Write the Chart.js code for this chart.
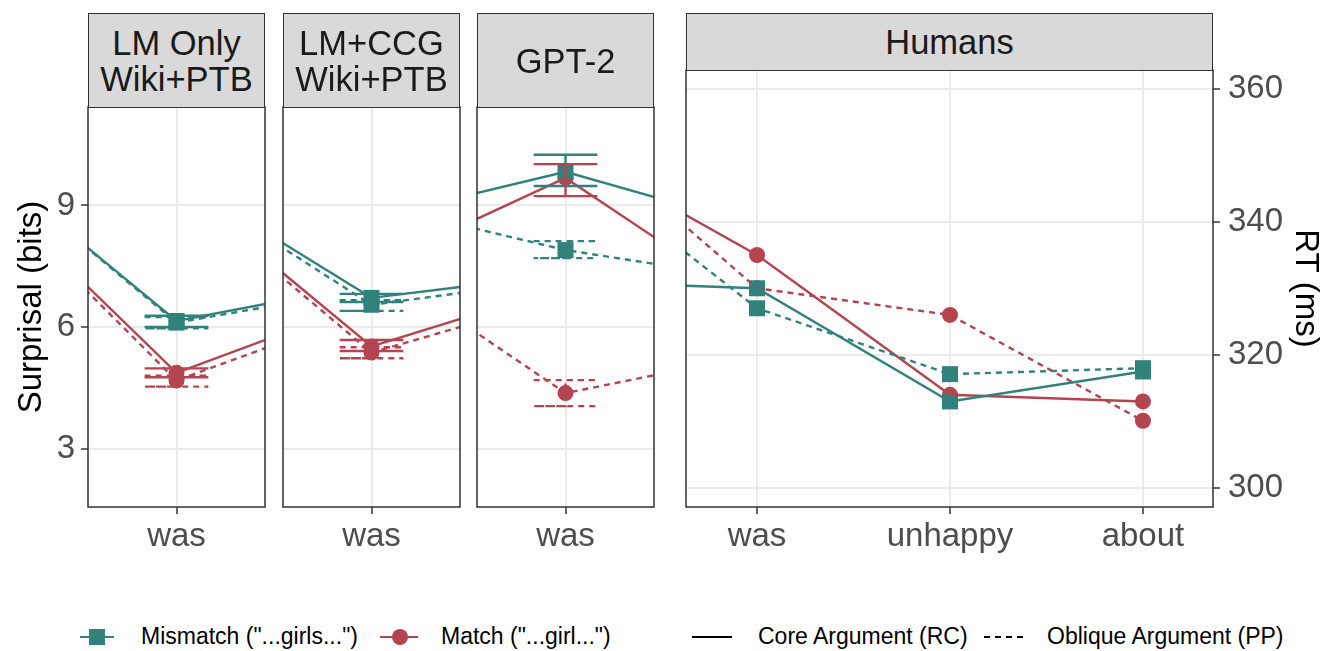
<!DOCTYPE html>
<html><head><meta charset="utf-8">
<script src="https://cdn.jsdelivr.net/npm/chart.js@4"></script>
<style>
body{margin:0;width:1325px;height:651px;background:#fff;position:relative;overflow:hidden;font-family:"Liberation Sans",Arial,sans-serif;}
canvas{position:absolute;}
.strip{position:absolute;background:#D9D9D9;border:1.5px solid #333;box-sizing:border-box;color:#1A1A1A;font-size:34.5px;line-height:36px;display:flex;align-items:center;justify-content:center;text-align:center;white-space:pre;}
.lg{position:absolute;font-size:23px;color:#000;line-height:26px;white-space:pre;}
.lgline{position:absolute;height:2.5px;}
.lgmark{position:absolute;}
</style></head>
<body>
<canvas id="c1" width="267" height="462" style="left:0px;top:105px"></canvas>
<canvas id="c2" width="181" height="462" style="left:281px;top:105px"></canvas>
<canvas id="c3" width="181" height="462" style="left:475px;top:105px"></canvas>
<canvas id="c4" width="641" height="499" style="left:684px;top:68px"></canvas>
<script>
// ---------- DATA ----------
const panelNames = ['LM Only\nWiki+PTB', 'LM+CCG\nWiki+PTB', 'GPT-2', 'Humans'];
const colorLegend = ['Mismatch ("...girls...")', 'Match ("...girl...")'];
const typeLegend = ['Core Argument (RC)', 'Oblique Argument (PP)'];

// model panels: previous word, "was", next word
const lmWordPos = [-1, 0, 1];
const lmCategories = ['was'];
const surprisalTicks = [3, 6, 9];

// LM Only Wiki+PTB
const lmOnlyMismatchCore = [9.75, 6.15, 6.99];
const lmOnlyMismatchObl  = [9.75, 6.11, 6.87];
const lmOnlyMatchCore    = [9.11, 4.87, 6.49];
const lmOnlyMatchObl     = [9.04, 4.68, 6.28];
const lmOnlyMismatchCoreCI = [6.00, 6.28];
const lmOnlyMismatchOblCI  = [5.97, 6.25];
const lmOnlyMatchCoreCI    = [4.76, 4.98];
const lmOnlyMatchOblCI     = [4.53, 4.80];

// LM+CCG Wiki+PTB
const ccgMismatchCore = [9.42, 6.72, 7.26];
const ccgMismatchObl  = [9.35, 6.55, 7.13];
const ccgMatchCore    = [9.14, 5.52, 6.88];
const ccgMatchObl     = [9.05, 5.37, 6.63];
const ccgMismatchCoreCI = [6.62, 6.82];
const ccgMismatchOblCI  = [6.40, 6.66];
const ccgMatchCoreCI    = [5.41, 5.68];
const ccgMatchOblCI     = [5.23, 5.50];

// GPT-2
const gptMismatchCore = [8.79, 9.83, 8.59];
const gptMismatchObl  = [8.94, 7.90, 7.22];
const gptMatchCore    = [7.66, 9.68, 6.76];
const gptMatchObl     = [7.33, 4.37, 5.25];
const gptMismatchCoreCI = [9.48, 10.25];
const gptMismatchOblCI  = [7.70, 8.12];
const gptMatchCoreCI    = [9.23, 10.02];
const gptMatchOblCI     = [4.05, 4.69];

// Humans (RT, ms): previous word, was, unhappy, about
const humanWordPos = [0, 1, 2, 3];
const humanCategories = ['was', 'unhappy', 'about'];
const rtTicks = [300, 320, 340, 360];
const humMismatchCore = [331.0, 330.0, 313.0, 317.5];
const humMismatchObl  = [349.7, 327.0, 317.1, 318.0];
const humMatchCore    = [351.3, 335.0, 314.0, 313.0];
const humMatchObl     = [355.1, 330.0, 326.0, 310.1];

// ---------- STYLE ----------
const TEAL = '#31827C', RED = '#B44550';
const DASH = [6, 5];
const LW = 2.4;
const FONT = '"Liberation Sans", Arial, sans-serif';

function pts(xs, ys) { return xs.map((x, i) => ({x: x, y: ys[i]})); }

function buildDatasets(xs, series, xmin, xmax) {
  const lines = series.map(s => ({
    data: pts(xs, s.y), showLine: true, borderColor: s.color, borderWidth: LW,
    borderDash: s.dashed ? DASH : [], pointRadius: 0, fill: false, tension: 0
  }));
  const marks = series.map(s => ({
    data: pts(xs, s.y).filter(p => p.x >= xmin && p.x <= xmax), showLine: false,
    pointStyle: s.shape, pointRadius: s.shape === 'rect' ? 11.3 : 8,
    pointBackgroundColor: s.color, pointBorderWidth: 0, pointHoverRadius: 0
  }));
  return lines.concat(marks);
}

function errPlugin(bars, halfW) {
  return { id: 'errbars', afterDatasetsDraw(chart) {
    const {ctx, chartArea: a, scales: {x, y}} = chart;
    ctx.save();
    ctx.beginPath(); ctx.rect(a.left, a.top, a.width, a.height); ctx.clip();
    bars.forEach(b => {
      const px = x.getPixelForValue(b.x), pl = x.getPixelForValue(b.x - halfW), pr = x.getPixelForValue(b.x + halfW);
      const yl = y.getPixelForValue(b.ci[0]), yh = y.getPixelForValue(b.ci[1]);
      ctx.strokeStyle = b.color; ctx.lineWidth = LW; ctx.setLineDash(b.dashed ? DASH : []);
      ctx.beginPath();
      ctx.moveTo(pl, yh); ctx.lineTo(pr, yh); ctx.lineTo(px, yh); ctx.lineTo(px, yl);
      ctx.lineTo(pl, yl); ctx.lineTo(pr, yl);
      ctx.stroke();
    });
    ctx.restore();
  }};
}
const boxPlugin = { id: 'box', afterDraw(chart) {
  const {ctx, chartArea: a} = chart;
  ctx.save(); ctx.strokeStyle = '#333333'; ctx.lineWidth = 1.5; ctx.setLineDash([]);
  ctx.strokeRect(a.left, a.top, a.width, a.height); ctx.restore();
}};

function makePanel(id, cfg) {
  const xScale = {
    type: 'linear', min: cfg.xmin, max: cfg.xmax,
    afterBuildTicks: s => { s.ticks = cfg.xTicks.map(v => ({value: v})); },
    afterFit: s => { s.height = 60; s.paddingLeft = 0; s.paddingRight = 0; },
    ticks: { callback: (v, i) => cfg.xLabels[i], font: {family: FONT, size: 33}, color: '#4D4D4D',
             padding: 3, maxRotation: 0, autoSkip: false },
    grid: { color: '#EBEBEB', lineWidth: 2, tickColor: '#333333', tickWidth: 1.5, tickLength: 7, drawTicks: true },
    border: { display: false }
  };
  const yScale = {
    type: 'linear', min: cfg.ymin, max: cfg.ymax, position: cfg.yPos || 'left',
    afterBuildTicks: s => { s.ticks = cfg.yTicks.map(v => ({value: v})); },
    afterFit: s => { s.width = cfg.yWidth; s.paddingTop = 0; s.paddingBottom = 0; },
    ticks: { display: cfg.yShow, font: {family: FONT, size: 33}, color: '#4D4D4D', padding: cfg.yPad || 6 },
    grid: { color: '#EBEBEB', lineWidth: 2, tickColor: '#333333', tickWidth: 1.5, tickLength: 7, drawTicks: cfg.yShow },
    border: { display: false },
    title: cfg.yTitle ? { display: true, text: cfg.yTitle, font: {family: FONT, size: 33}, color: '#000',
                          padding: cfg.yTitlePad } : { display: false }
  };
  const bars = cfg.ci || [];
  return new Chart(document.getElementById(id), {
    type: 'scatter',
    data: { datasets: buildDatasets(cfg.xs, cfg.series, cfg.xmin, cfg.xmax) },
    options: {
      responsive: false, animation: false, devicePixelRatio: 1,
      layout: { padding: cfg.pad, autoPadding: false },
      scales: { x: xScale, y: yScale },
      plugins: { legend: {display: false}, tooltip: {enabled: false} },
      events: []
    },
    plugins: [errPlugin(bars, 0.18), boxPlugin]
  });
}

function lmSeries(mc, mo, tc, to) {
  return [
    {y: mc, color: TEAL, dashed: false, shape: 'rect'},
    {y: mo, color: TEAL, dashed: true, shape: 'rect'},
    {y: tc, color: RED, dashed: false, shape: 'circle'},
    {y: to, color: RED, dashed: true, shape: 'circle'}
  ];
}
function lmCI(mc, mo, tc, to) {
  return [
    {x: 0, ci: mc, color: TEAL, dashed: false},
    {x: 0, ci: mo, color: TEAL, dashed: true},
    {x: 0, ci: tc, color: RED, dashed: false},
    {x: 0, ci: to, color: RED, dashed: true}
  ];
}
const lmCommon = { xs: lmWordPos, xmin: -0.5, xmax: 0.5, xTicks: [0], xLabels: lmCategories,
                   ymin: 1.56, ymax: 11.43, yTicks: surprisalTicks };

makePanel('c1', Object.assign({}, lmCommon, {
  series: lmSeries(lmOnlyMismatchCore, lmOnlyMismatchObl, lmOnlyMatchCore, lmOnlyMatchObl),
  ci: lmCI(lmOnlyMismatchCoreCI, lmOnlyMismatchOblCI, lmOnlyMatchCoreCI, lmOnlyMatchOblCI),
  yShow: true, yWidth: 88, yTitle: 'Surprisal (bits)', yTitlePad: {top: 12, bottom: 0},
  pad: {top: 2, right: 2, left: 0, bottom: 0}
}));
makePanel('c2', Object.assign({}, lmCommon, {
  series: lmSeries(ccgMismatchCore, ccgMismatchObl, ccgMatchCore, ccgMatchObl),
  ci: lmCI(ccgMismatchCoreCI, ccgMismatchOblCI, ccgMatchCoreCI, ccgMatchOblCI),
  yShow: false, yWidth: 0, pad: {top: 2, right: 2, left: 2, bottom: 0}
}));
makePanel('c3', Object.assign({}, lmCommon, {
  series: lmSeries(gptMismatchCore, gptMismatchObl, gptMatchCore, gptMatchObl),
  ci: lmCI(gptMismatchCoreCI, gptMismatchOblCI, gptMatchCoreCI, gptMatchOblCI),
  yShow: false, yWidth: 0, pad: {top: 2, right: 2, left: 2, bottom: 0}
}));
makePanel('c4', {
  xs: humanWordPos, xmin: 0.632, xmax: 3.363, xTicks: [1, 2, 3], xLabels: humanCategories,
  ymin: 297.15, ymax: 362.78, yTicks: rtTicks, yPos: 'right', yPad: 8,
  series: lmSeries(humMismatchCore, humMismatchObl, humMatchCore, humMatchObl),
  ci: [], yShow: true, yWidth: 112, yTitle: 'RT (ms)', yTitlePad: {top: 0, bottom: 0},
  pad: {top: 2, right: 0, left: 2, bottom: 0}
});

// ---------- STRIPS ----------
const stripBoxes = [[88, 13, 177, 95], [283, 13, 177, 95], [477, 13, 177, 95], [686, 13, 527, 58]];
panelNames.forEach((n, i) => {
  const d = document.createElement('div'); d.className = 'strip';
  const b = stripBoxes[i];
  d.style.left = b[0] + 'px'; d.style.top = b[1] + 'px'; d.style.width = b[2] + 'px'; d.style.height = b[3] + 'px';
  d.textContent = n; document.body.appendChild(d);
});

// ---------- LEGEND ----------
function addEl(cls, css, text) {
  const d = document.createElement('div'); d.className = cls; d.style.cssText = css;
  if (text) d.textContent = text; document.body.appendChild(d); return d;
}
const LY = 637;
addEl('lgline', `left:80px;top:${LY - 1.25}px;width:34px;background:${TEAL}`);
addEl('lgmark', `left:89px;top:${LY - 8}px;width:16px;height:16px;background:${TEAL}`);
addEl('lg', `left:141px;top:${LY - 14}px`, colorLegend[0]);
addEl('lgline', `left:380px;top:${LY - 1.25}px;width:38px;background:${RED}`);
addEl('lgmark', `left:391.5px;top:${LY - 8}px;width:16px;height:16px;border-radius:50%;background:${RED}`);
addEl('lg', `left:441px;top:${LY - 14}px`, colorLegend[1]);
addEl('lgline', `left:692px;top:${LY - 1.25}px;width:40px;background:#000`);
addEl('lg', `left:758px;top:${LY - 14}px`, typeLegend[0]);
addEl('lgline', `left:984px;top:${LY - 1.25}px;width:40px;background:repeating-linear-gradient(to right,#000 0 6px,transparent 6px 11px)`);
addEl('lg', `left:1047px;top:${LY - 14}px`, typeLegend[1]);
</script>
</body></html>
